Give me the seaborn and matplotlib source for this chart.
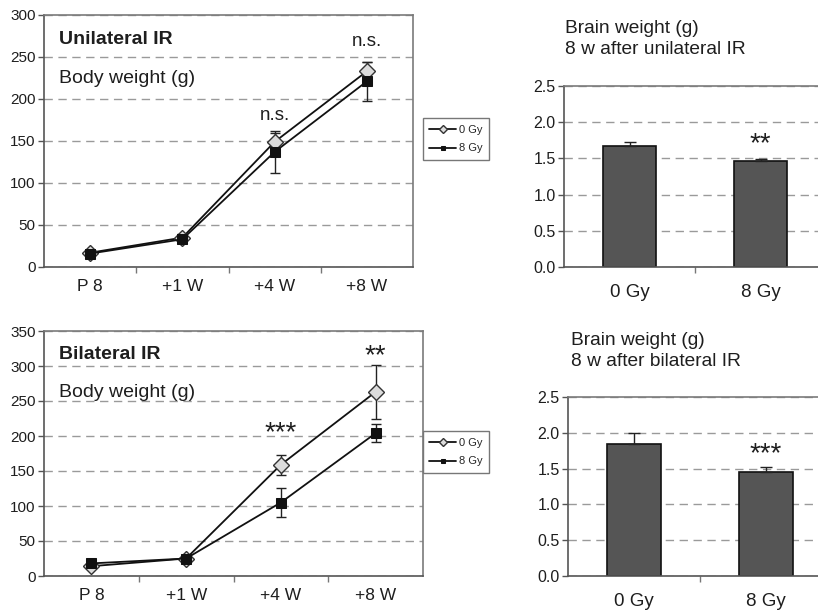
import matplotlib
matplotlib.use('Agg')
import matplotlib.pyplot as plt
import numpy as np
import seaborn as sns
from matplotlib.ticker import MultipleLocator, FixedLocator

# Body weight over time (g)
timepoints = ['P 8', '+1 W', '+4 W', '+8 W']
uni_0gy = [17, 35, 149, 233]
uni_0gy_err = [3, 4, 10, 11]
uni_8gy = [16, 33, 137, 221]
uni_8gy_err = [3, 4, 25, 23]
bi_0gy = [14, 25, 159, 263]
bi_0gy_err = [3, 4, 14, 39]
bi_8gy = [18, 25, 105, 204]
bi_8gy_err = [3, 4, 21, 13]

# Brain weight 8 w after IR (g)
doses = ['0 Gy', '8 Gy']
brain_uni = [1.67, 1.47]
brain_uni_err = [0.05, 0.02]
brain_bi = [1.85, 1.45]
brain_bi_err = [0.15, 0.07]

sns.set_theme(style='white')
plt.rcParams['font.family'] = ['Liberation Sans', 'DejaVu Sans']

W, H = 818, 615
fig = plt.figure(figsize=(W / 100, H / 100), dpi=100)


def px_axes(left, top, right, bottom):
    return fig.add_axes([left / W, 1 - bottom / H, (right - left) / W, (bottom - top) / H])


GRID = '#9a9a9a'
SPINE = '#7a7a7a'
TXT = '#1e1e1e'


def style_frame(ax):
    for s in ax.spines.values():
        s.set_color(SPINE)
        s.set_linewidth(1.2)
        s.set_visible(True)
    ax.spines['left'].set_color('#555555')
    ax.spines['bottom'].set_color('#555555')
    ax.yaxis.grid(True, linestyle=(0, (6, 4)), color=GRID, linewidth=1.0)
    ax.xaxis.grid(False)
    ax.set_axisbelow(True)
    ax.tick_params(axis='y', which='major', direction='out', length=4, width=1,
                   color='#555555', left=True, labelcolor=TXT, pad=2)


def line_panel(ax, v0, e0, v8, e8, ymax, title, marks):
    x = np.arange(len(timepoints))
    ax.errorbar(x, v0, yerr=e0, fmt='none', ecolor='#222222', elinewidth=1, capsize=3.5, zorder=2)
    ax.errorbar(x, v8, yerr=e8, fmt='none', ecolor='#222222', elinewidth=1, capsize=3.5, zorder=2)
    sns.lineplot(x=x, y=v0, ax=ax, color='#111111', lw=1.3, marker='D', markersize=8,
                 markerfacecolor='#dcdcdc', markeredgecolor='#333333', markeredgewidth=1, zorder=3)
    sns.lineplot(x=x, y=v8, ax=ax, color='#111111', lw=1.3, marker='s', markersize=7,
                 markerfacecolor='#111111', markeredgecolor='#111111', zorder=4)
    ax.set_xlim(-0.5, len(timepoints) - 0.5)
    ax.set_ylim(0, ymax)
    style_frame(ax)
    ax.yaxis.set_major_locator(MultipleLocator(50))
    ax.tick_params(axis='y', labelsize=11)
    ax.set_xticks(x)
    ax.set_xticklabels(timepoints, fontsize=12.5, color=TXT)
    ax.tick_params(axis='x', which='major', length=0, pad=9)
    ax.xaxis.set_minor_locator(FixedLocator([0.5, 1.5, 2.5]))
    ax.tick_params(axis='x', which='minor', direction='out', length=4, color='#777777', bottom=True)
    ax.text(0.04, 0.885, title, transform=ax.transAxes, fontsize=14, fontweight='bold', color=TXT)
    ax.text(0.04, 0.73, 'Body weight (g)', transform=ax.transAxes, fontsize=14, color=TXT)
    for xi, yv, s, fs in marks:
        ax.text(xi, yv, s, ha='center', va='center', fontsize=fs, color=TXT)
    h = [ax.lines[-2], ax.lines[-1]]
    return h


def bar_panel(ax, vals, errs, star, star_y):
    sns.barplot(x=doses, y=vals, ax=ax, color='#555555', saturation=1, width=0.41,
                edgecolor='#111111', linewidth=1.2, zorder=2)
    ax.errorbar(np.arange(len(doses)), vals, yerr=[[0] * len(errs), errs], fmt='none',
                ecolor='#222222', elinewidth=1, capsize=4, zorder=3)
    ax.set_xlim(-0.5, 1.5)
    ax.set_ylim(0, 2.5)
    style_frame(ax)
    ax.yaxis.set_major_locator(MultipleLocator(0.5))
    ax.yaxis.set_major_formatter(matplotlib.ticker.FormatStrFormatter('%.1f'))
    ax.tick_params(axis='y', labelsize=11.5)
    ax.tick_params(axis='x', which='major', length=0, pad=12, labelsize=13.5, labelcolor=TXT)
    ax.xaxis.set_minor_locator(FixedLocator([0.5]))
    ax.tick_params(axis='x', which='minor', direction='out', length=4, color='#777777', bottom=True)
    ax.set_xlabel('')
    ax.set_ylabel('')
    ax.text(1, star_y, star, ha='center', va='center', fontsize=20, color=TXT)


ax1 = px_axes(44, 15, 413, 267)
h1 = line_panel(ax1, uni_0gy, uni_0gy_err, uni_8gy, uni_8gy_err, 300, 'Unilateral IR',
                [(2, 180, 'n.s.', 13.5), (3, 268, 'n.s.', 13.5)])
ax2 = px_axes(44, 331, 423, 576)
h2 = line_panel(ax2, bi_0gy, bi_0gy_err, bi_8gy, bi_8gy_err, 350, 'Bilateral IR',
                [(2, 204, '***', 20), (3, 314, '**', 20)])

ax3 = px_axes(564, 86, 826, 267)
bar_panel(ax3, brain_uni, brain_uni_err, '**', 1.70)
ax4 = px_axes(568, 397, 832, 576)
bar_panel(ax4, brain_bi, brain_bi_err, '***', 1.70)

fig.text(565 / W, 1 - 39 / H, 'Brain weight (g)\n8 w after unilateral IR', ha='left', va='center',
         fontsize=13.8, color=TXT, linespacing=1.25)
fig.text(571 / W, 1 - 351 / H, 'Brain weight (g)\n8 w after bilateral IR', ha='left', va='center',
         fontsize=13.8, color=TXT, linespacing=1.25)

for hh, cy in [(h1, 139), (h2, 452)]:
    lg = fig.legend(hh, ['0 Gy', '8 Gy'], loc='center', bbox_to_anchor=(456 / W, 1 - cy / H),
                    frameon=True, fancybox=False, framealpha=1, edgecolor='#777777',
                    handlelength=2.4, handletextpad=0.3, borderpad=0.6, labelspacing=0.8,
                    markerscale=0.5, prop={'size': 8})
    lg.get_frame().set_linewidth(1.0)

fig.savefig('out.png', dpi=100)
